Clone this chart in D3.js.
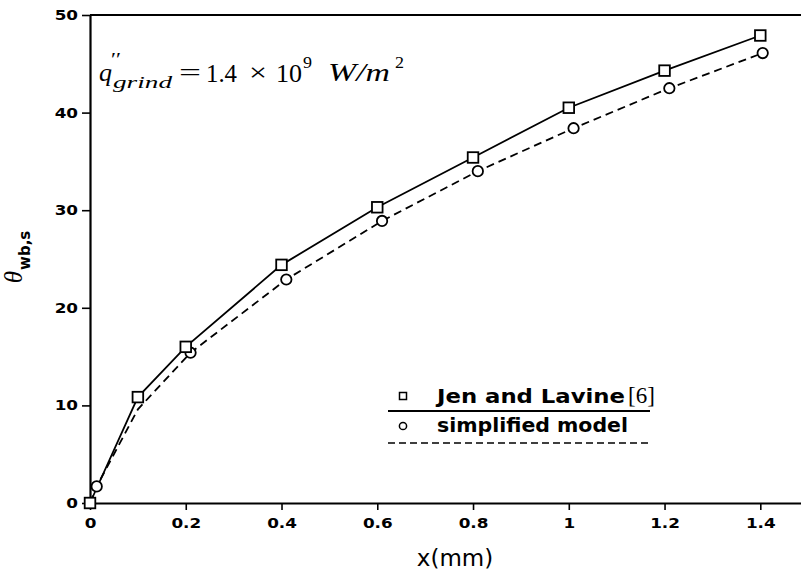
<!DOCTYPE html>
<html>
<head>
<meta charset="utf-8">
<script src="https://cdn.jsdelivr.net/npm/d3@7"></script>
<style>
body { margin: 0; background: #fff; }
svg { display: block; }
</style>
</head>
<body>
<svg width="801" height="573"></svg>
<script>
// values
var jenX = [0, 0.1, 0.2, 0.4, 0.6, 0.8, 1.0, 1.2, 1.4];
var jenY = [0, 10.85, 16.0, 24.4, 30.3, 35.4, 40.5, 44.3, 47.9];
var simX = [0, 0.014, 0.1, 0.21, 0.41, 0.61, 0.81, 1.01, 1.21, 1.405];
var simY = [0, 1.7, 9.6, 15.4, 22.9, 28.9, 34.0, 38.4, 42.5, 46.1];
var simMark = [1, 1, 0, 1, 1, 1, 1, 1, 1, 1];
var xTicks = [0, 0.2, 0.4, 0.6, 0.8, 1, 1.2, 1.4];
var xTickLabels = ["0", "0.2", "0.4", "0.6", "0.8", "1", "1.2", "1.4"];
var yTicks = [0, 10, 20, 30, 40, 50];
var seriesNames = ["Jen and Lavine", "simplified model"];

var svg = d3.select("svg");
var x = d3.scaleLinear().domain([0, 1.485]).range([90, 801]);
var y = d3.scaleLinear().domain([0, 50]).range([503, 15]);

var tickFont = "DejaVu Sans, sans-serif";

// axes
var gx = svg.append("g")
  .attr("transform", "translate(0," + y(0) + ")")
  .call(d3.axisBottom(x).tickValues(xTicks)
    .tickFormat(function(d, i) { return xTickLabels[i]; })
    .tickSize(7).tickSizeOuter(0).tickPadding(8));
var gy = svg.append("g")
  .attr("transform", "translate(" + x(0) + ",0)")
  .call(d3.axisLeft(y).tickValues(yTicks).tickSize(8).tickSizeOuter(0).tickPadding(4));

[gx, gy].forEach(function(g) {
  g.select(".domain").attr("stroke-width", 2.2);
  g.selectAll(".tick line").attr("stroke-width", 1.6);
  g.selectAll(".tick text")
    .attr("font-family", tickFont)
    .attr("font-weight", "bold")
    .attr("font-size", 14)
    .attr("fill", "#000")
    .each(function() {
      d3.select(this).attr("textLength", this.getComputedTextLength() * 1.2)
        .attr("lengthAdjust", "spacingAndGlyphs");
    });
});

// top frame line
svg.append("line")
  .attr("x1", x(0)).attr("x2", x.range()[1])
  .attr("y1", y(50)).attr("y2", y(50))
  .attr("stroke", "#000").attr("stroke-width", 2.2);

// curves
var jen = jenX.map(function(d, i) { return [d, jenY[i]]; });
var sim = simX.map(function(d, i) { return [d, simY[i], simMark[i]]; });
var line = d3.line().x(function(d) { return x(d[0]); }).y(function(d) { return y(d[1]); });

svg.append("path").attr("d", line(sim))
  .attr("fill", "none").attr("stroke", "#000").attr("stroke-width", 1.8)
  .attr("stroke-dasharray", "8,5");
svg.append("path").attr("d", line(jen))
  .attr("fill", "none").attr("stroke", "#000").attr("stroke-width", 1.8);

svg.selectAll(".sim").data(sim.filter(function(d) { return d[2]; }))
  .enter().append("circle")
  .attr("cx", function(d) { return x(d[0]); })
  .attr("cy", function(d) { return y(d[1]); })
  .attr("r", 5.2)
  .attr("fill", "#fff").attr("stroke", "#000").attr("stroke-width", 1.8);

svg.selectAll(".jen").data(jen)
  .enter().append("rect")
  .attr("x", function(d) { return x(d[0]) - 5.3; })
  .attr("y", function(d) { return y(d[1]) - 5.3; })
  .attr("width", 10.6).attr("height", 10.6)
  .attr("fill", "#fff").attr("stroke", "#000").attr("stroke-width", 1.8);

// axis titles
svg.append("text")
  .attr("x", 455).attr("y", 566)
  .attr("text-anchor", "middle")
  .attr("font-family", "DejaVu Sans, sans-serif")
  .attr("font-size", 23)
  .text("x(mm)");

var yl = svg.append("text")
  .attr("transform", "translate(22,257) rotate(-90)")
  .attr("text-anchor", "middle");
yl.append("tspan").attr("font-family", "Liberation Serif, serif").attr("font-style", "italic")
  .attr("font-size", 25).text("θ");
yl.append("tspan").attr("font-family", "DejaVu Sans, sans-serif").attr("font-weight", "bold")
  .attr("font-size", 15).attr("dx", 1).attr("dy", 8).text("wb,s");

// annotation
var ann = svg.append("g").attr("font-family", "Liberation Serif, serif");
function piece(t, px, py, w, fs, it) {
  var e = ann.append("text").attr("x", px).attr("y", py)
    .attr("font-size", fs).text(t);
  if (w) e.attr("textLength", w).attr("lengthAdjust", "spacingAndGlyphs");
  if (it) e.attr("font-style", "italic");
  return e;
}
piece("q", 99, 81, 13, 25, 1);
piece("′′", 111, 66, 10, 19);
piece("grind", 113, 88, 59, 16, 1);
piece("=", 179, 81, 22, 25);
piece("1.4", 206, 82, 31, 26);
piece("×", 249, 81, 18, 25);
piece("10", 276, 82, 26, 26);
piece("9", 303, 68, 9, 16);
piece("W/m", 328, 81, 62, 25, 1);
piece("2", 395, 68, 9, 16);

// legend
var lg = svg.append("g");
lg.append("rect").attr("x", 399.5).attr("y", 392.5).attr("width", 7).attr("height", 7)
  .attr("fill", "#fff").attr("stroke", "#000").attr("stroke-width", 1.5);
lg.append("text").attr("x", 437).attr("y", 403)
  .attr("font-family", "DejaVu Sans, sans-serif").attr("font-weight", "bold").attr("font-size", 20)
  .attr("textLength", 188).attr("lengthAdjust", "spacingAndGlyphs")
  .text(seriesNames[0]);
lg.append("text").attr("x", 628).attr("y", 403)
  .attr("font-family", "Liberation Serif, serif").attr("font-size", 23).text("[6]");
lg.append("line").attr("x1", 388).attr("x2", 650).attr("y1", 411).attr("y2", 411)
  .attr("stroke", "#000").attr("stroke-width", 1.8);
lg.append("circle").attr("cx", 403).attr("cy", 426).attr("r", 3.6)
  .attr("fill", "#fff").attr("stroke", "#000").attr("stroke-width", 1.5);
lg.append("text").attr("x", 437).attr("y", 432)
  .attr("font-family", "DejaVu Sans, sans-serif").attr("font-weight", "bold").attr("font-size", 20)
  .attr("textLength", 191).attr("lengthAdjust", "spacingAndGlyphs")
  .text(seriesNames[1]);
lg.append("line").attr("x1", 388).attr("x2", 648).attr("y1", 443).attr("y2", 443)
  .attr("stroke", "#000").attr("stroke-width", 1.5).attr("stroke-dasharray", "7,4");
</script>
</body>
</html>
